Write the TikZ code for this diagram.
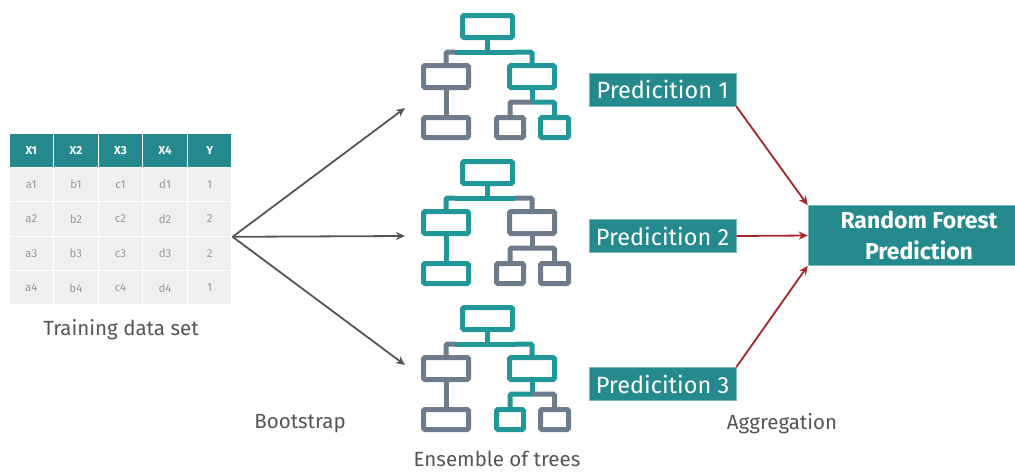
\documentclass[tikz,border=0pt]{standalone}
\usepackage{fontspec}
\setmainfont{Fira Sans}
\usetikzlibrary{arrows.meta}
\definecolor{teal1}{HTML}{21979A}
\definecolor{tealbox}{HTML}{248A8E}
\definecolor{treegray}{HTML}{6E7B8B}
\definecolor{cellgray}{HTML}{EFEFEF}
\definecolor{celltext}{HTML}{9A9A9A}
\definecolor{labgray}{HTML}{555555}
\definecolor{arrgray}{HTML}{555555}
\definecolor{arrred}{HTML}{A3262A}
\newcommand\drawtree[5]{%
\begin{scope}[shift={(0,#1)}]
 \draw[tl, teal1] (462.5,15.5) rectangle (512.5,37.5);
 \draw[tl, teal1] (487.5,37.5) -- (487.5,52);
 \draw[tl, teal1] (455,52) -- (515,52);
 \draw[tl, #2] (455,52) -- (446,52) -- (446,65.5);
 \draw[tl, #3] (515,52) -- (532,52) -- (532,65.5);
 \draw[tl, #2] (423.5,65.5) rectangle (468.5,87.5);
 \draw[tl, #2] (446,87.5) -- (446,117.5);
 \draw[tl, #2] (423.5,117.5) rectangle (468.5,137.5);
 \draw[tl, #3] (509.5,65.5) rectangle (554.5,87.5);
 \draw[tl, #3] (532,87.5) -- (532,102);
 \draw[tl, #4] (532,102) -- (510,102) -- (510,117.5);
 \draw[tl, #5] (532,102) -- (554.5,102) -- (554.5,117.5);
 \draw[tl, #4] (496.5,117.5) rectangle (523.5,137.5);
 \draw[tl, #5] (540.5,117.5) rectangle (568.5,137.5);
\end{scope}}
\begin{document}
\begin{tikzpicture}[x=1pt,y=-1pt,
  tl/.style={line width=5pt, rounded corners=1.5pt, line join=miter},
  cell/.style={draw=white, line width=1.2pt, fill=cellgray, minimum width=44.6pt, minimum height=34.4pt, inner sep=0pt, text=celltext, font=\fontsize{11.5}{13}\selectfont},
  hdr/.style={cell, fill=tealbox, text=white, font=\bfseries\fontsize{11.5}{13}\selectfont},
  pred/.style={fill=tealbox, draw=tealbox!60!white, line width=0.6pt, text=white, minimum width=147pt, minimum height=33pt, inner sep=0pt, font=\fontsize{23.5}{26}\selectfont},
  rfbox/.style={fill=tealbox, draw=tealbox!60!white, line width=0.6pt, text=white, minimum width=222pt, minimum height=60pt, inner sep=0pt, align=center, font=\bfseries\fontsize{23}{31}\selectfont},
  lab/.style={text=labgray, inner sep=0pt, font=\fontsize{20.5}{22}\selectfont},
  garr/.style={draw=arrgray, line width=1.8pt, -{Stealth[length=9pt,width=8pt]}},
  rarr/.style={draw=arrred, line width=1.8pt, -{Stealth[length=9pt,width=8pt]}}]
\useasboundingbox[fill=white] (0,0) rectangle (1015,472);
% table
\foreach \col [count=\i from 0] in {X1,X2,X3,X4,Y}
  \node[hdr] (h\i) at ({31.3+44.6*\i},150.2) {\col};
\foreach \r/\yv in {1/1,2/2,3/2,4/1}{
  \foreach \col [count=\i from 0] in {a,b,c,d}
    \node[cell] (c\r\i) at ({31.3+44.6*\i},{150.2+34.4*\r}) {\col\r};
  \node[cell] (c\r4) at ({31.3+44.6*4},{150.2+34.4*\r}) {\yv};
}
\node[lab] (train) at (121,330) {Training data set};
% trees
\drawtree{0}{treegray}{teal1}{treegray}{teal1}
\drawtree{146}{teal1}{treegray}{treegray}{treegray}
\drawtree{292}{treegray}{teal1}{teal1}{treegray}
\coordinate (t1) at (405,108);
\coordinate (t2) at (405,236);
\coordinate (t3) at (405,365);
\draw[garr] (c24.south east) -- (t1);
\draw[garr] (c24.south east) -- (t2);
\draw[garr] (c24.south east) -- (t3);
% predictions
\node[pred] (p1) at (662.5,89.5) {Predicition 1};
\node[pred] (p2) at (662.5,236) {Predicition 2};
\node[pred] (p3) at (662.5,384) {Predicition 3};
\node[rfbox] (rf) at (919,235.5) {Random Forest\\Prediction};
\draw[rarr] (p1.south east) -- (rf.north west);
\draw[rarr] (p2.east) -- (rf.west);
\draw[rarr] (p3.north east) -- (rf.south west);
% labels
\node[lab] (boot) at (300,424) {Bootstrap};
\node[lab] (agg) at (782,424) {Aggregation};
\node[lab] (ens) at (497,459) {Ensemble of trees};
\end{tikzpicture}
\end{document}
